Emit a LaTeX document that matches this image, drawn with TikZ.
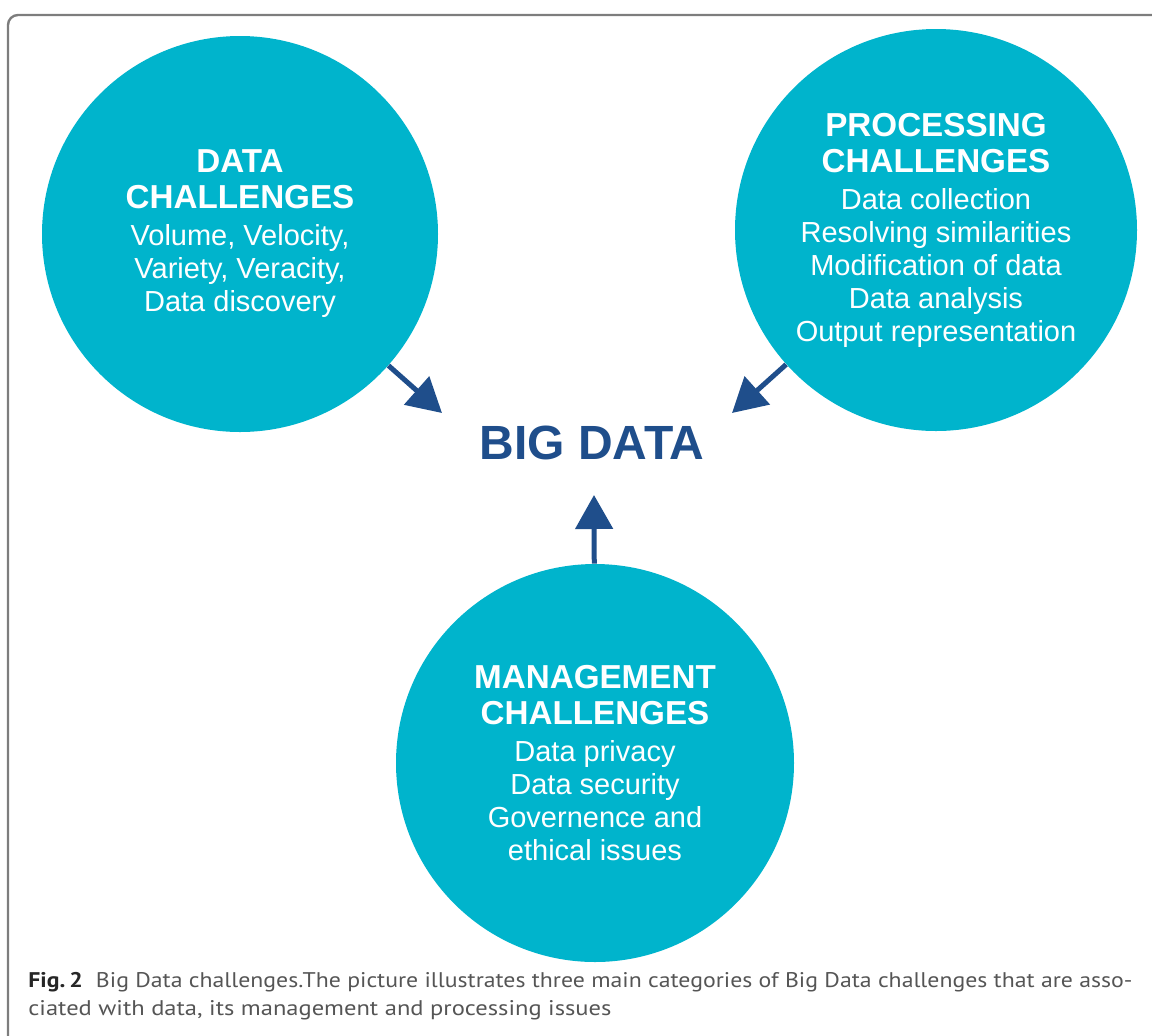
\documentclass[tikz,border=0pt]{standalone}
\usepackage{fontspec}
\setmainfont{Liberation Sans}
\newfontfamily\capfont{PT Sans}
\usetikzlibrary{arrows.meta}
\definecolor{tealc}{RGB}{0,180,204}
\definecolor{navyc}{RGB}{31,78,139}
\definecolor{framec}{RGB}{125,125,125}
\definecolor{capgray}{RGB}{85,85,85}
\newcommand\headtxt[1]{{\fontsize{16.6}{18}\selectfont\bfseries #1}}
\begin{document}
\begin{tikzpicture}[x=0.5pt,y=-0.5pt,
  circ/.style={circle,fill=tealc,text=white,inner sep=0pt,align=center,
    font=\fontsize{14.5}{16.5}\selectfont},
  arr/.style={draw=navyc,line width=2.5pt,-{Triangle[length=17pt,width=18.5pt]}},
  framestyle/.style={draw=framec,line width=1.2pt,rounded corners=5pt}]
\useasboundingbox (0,0) rectangle (1152,1035);
\draw[framestyle] (8,1045) -- (8,15) -- (1165,15);

\node[circ,minimum size=198pt] (data) at (240,234)
  {\headtxt{DATA}\\[1.5pt]\headtxt{CHALLENGES}\\[2pt]Volume, Velocity,\\Variety, Veracity,\\Data discovery};
\node[circ,minimum size=201pt] (proc) at (936,230)
  {\headtxt{PROCESSING}\\[1.5pt]\headtxt{CHALLENGES}\\[2pt]Data collection\\Resolving similarities\\Modification of data\\Data analysis\\Output representation};
\node[circ,minimum size=199pt] (mgmt) at (595,763)
  {\headtxt{MANAGEMENT}\\[1.5pt]\headtxt{CHALLENGES}\\[2pt]Data privacy\\Data security\\Governence and\\ethical issues};

\node[text=navyc,font=\fontsize{24}{28}\selectfont\bfseries,inner sep=0pt] (big) at (592,443) {BIG DATA};

\coordinate (tipL) at (442,413);
\coordinate (tipR) at (732,413);
\coordinate (tipB) at (594,495);
\draw[arr] (data) -- (tipL);
\draw[arr] (proc) -- (tipR);
\draw[arr] (mgmt) -- (tipB);

\node[anchor=base west,text=capgray,align=left,inner sep=0pt,
  font=\capfont\fontsize{10.6}{14}\selectfont] (cap) at (28,1015)
  {\resizebox{552pt}{\height}{\textcolor{black!85}{\textbf{Fig.\,2}}\hspace{0.55em}Big Data challenges.The picture illustrates three main categories of Big Data challenges that are asso-}\\
   \resizebox{291.5pt}{\height}{ciated with data, its management and processing issues}};
\end{tikzpicture}
\end{document}
